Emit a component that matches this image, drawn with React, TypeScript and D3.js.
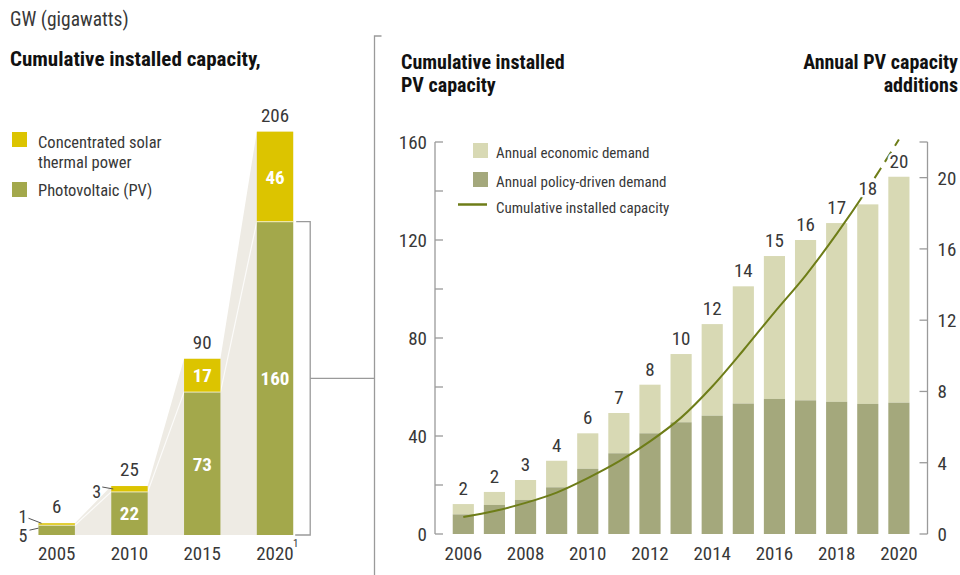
import * as d3 from 'd3';

// left panel: cumulative installed capacity, GW
const leftYears = ['2005', '2010', '2015', '2020'];
const pvCumulative = [5, 22, 73, 160];
const cspCumulative = [1, 3, 17, 46];
const leftTotals = [6, 25, 90, 206];

// right panel: annual additions (GW, right axis) and cumulative PV (GW, left axis)
const years = ['2006', '2007', '2008', '2009', '2010', '2011', '2012', '2013', '2014', '2015', '2016', '2017', '2018', '2019', '2020'];
const policyDemand = [1.1, 1.63, 1.91, 2.62, 3.66, 4.53, 5.65, 6.27, 6.64, 7.32, 7.58, 7.5, 7.42, 7.3, 7.37];
const economicDemand = [0.58, 0.73, 1.12, 1.49, 1.99, 2.26, 2.73, 3.83, 5.14, 6.58, 8.02, 9.0, 10.03, 11.2, 12.68];
const additionLabels = ['2', '2', '3', '4', '6', '7', '8', '10', '12', '14', '15', '16', '17', '18', '20'];
const cumulativePV = [6.9, 9.4, 12.7, 16.9, 22.8, 29.6, 37.8, 47.5, 60.2, 75, 90.5, 105.5, 122.5, 141, 161];
const yearTickLabels = ['2006', '2008', '2010', '2012', '2014', '2016', '2018', '2020'];
const leftTicks = [0, 20, 40, 60, 80, 100, 120, 140, 160];
const leftTickLabels = [0, 40, 80, 120, 160];
const rightTicks = [0, 4, 8, 12, 16, 20];

const FONT = '"Liberation Sans Narrow", "Roboto Condensed", "Arial Narrow", "DejaVu Sans Condensed", sans-serif';
const CSP = '#dcc400';
const PV = '#a3a84b';
const ECON = '#d8d9b4';
const POLICY = '#a4a87c';
const LINE = '#6e7d18';
const SHADE = '#eeebe4';
const GREY = '#9a9a9a';
const TEXT = '#383838';

export default function App() {
  // ---- left scales
  const xL = d3.scaleBand<string>().domain(leftYears).range([20.3, 311.4]).paddingInner(0.5).paddingOuter(0.25);
  const yL = d3.scaleLinear().domain([0, 210]).range([535, 535 - 210 * 1.958]);
  const bwL = xL.bandwidth();

  // shaded area joining the bar tops
  const shadePts: [number, number][] = [];
  leftYears.forEach((yr, i) => {
    shadePts.push([xL(yr)!, leftTotals[i]]);
    shadePts.push([xL(yr)! + bwL, leftTotals[i]]);
  });
  const shadeArea = d3.area<[number, number]>().x(d => d[0]).y0(yL(0)).y1(d => yL(d[1]));
  const pvPts: [number, number][] = [];
  leftYears.forEach((yr, i) => {
    pvPts.push([xL(yr)! + bwL, pvCumulative[i]]);
    if (i < leftYears.length - 1) pvPts.push([xL(leftYears[i + 1])!, pvCumulative[i + 1]]);
  });
  const pvLine = d3.line<[number, number]>().x(d => d[0]).y(d => yL(d[1]));

  // ---- right scales
  const xR = d3.scaleBand<string>().domain(years).range([447.75, 914.45]).paddingInner(0.32).paddingOuter(0.16);
  const bwR = xR.bandwidth();
  const cx = (yr: string) => xR(yr)! + bwR / 2;
  const yGW = d3.scaleLinear().domain([0, 160]).range([534, 142]);
  const yAdd = d3.scaleLinear().domain([0, 22]).range([534, 142]);

  const cumLine = d3.line<number>()
    .x((_, i) => cx(years[i]))
    .y(d => yGW(d))
    .curve(d3.curveCatmullRom.alpha(0.5));
  const cumPath = cumLine(cumulativePV) || '';
  const splitX = cx('2019');

  const axisLX = 435;
  const axisRX = 927.5;

  // bracket linking the 2020 PV bar to the right panel
  const brX0 = xL('2020')! + bwL + 3;
  const brX1 = brX0 + 14;
  const brTop = yL(pvCumulative[3]);
  const brMid = (yL(pvCumulative[3]) + yL(0)) / 2;
  const divX = 374.5;

  return (
    <svg width={960} height={575} style={{ position: 'absolute', left: 0, top: 0, background: '#fff' }} fontFamily={FONT}>
      <defs>
        <clipPath id="solidClip"><rect x={0} y={0} width={splitX} height={575} /></clipPath>
        <clipPath id="dashClip"><rect x={splitX} y={0} width={960 - splitX} height={575} /></clipPath>
      </defs>

      {/* ---------- left panel ---------- */}
      <text x={10} y={26} fontSize={19.5} fill={TEXT}>GW (gigawatts)</text>
      <text x={10} y={66} fontSize={21} fontWeight="bold" fill="#111">Cumulative installed capacity,</text>

      <rect x={12} y={132} width={15} height={15} fill={CSP} />
      <text x={38} y={148} fontSize={16.5} fill={TEXT}>Concentrated solar</text>
      <text x={38} y={168} fontSize={16.5} fill={TEXT}>thermal power</text>
      <rect x={12} y={182} width={15} height={15} fill={PV} />
      <text x={38} y={196} fontSize={16.5} fill={TEXT}>Photovoltaic (PV)</text>

      <path d={shadeArea(shadePts) || ''} fill={SHADE} />
      <path d={pvLine(pvPts) || ''} fill="none" stroke="#fff" strokeWidth={1.2} opacity={0.8} />

      {leftYears.map((yr, i) => {
        const x = xL(yr)!;
        const pvTop = yL(pvCumulative[i]);
        const totTop = yL(leftTotals[i]);
        return (
          <g key={yr}>
            <rect x={x} y={pvTop} width={bwL} height={yL(0) - pvTop} fill={PV} />
            <rect x={x} y={totTop} width={bwL} height={pvTop - totTop} fill={CSP} />
            <line x1={x} x2={x + bwL} y1={pvTop} y2={pvTop} stroke="#fff" strokeWidth={1} opacity={0.7} />
            <text x={x + bwL / 2} y={totTop - 10} textAnchor="middle" fontSize={19} fill={TEXT}>{leftTotals[i]}</text>
            <text x={x + bwL / 2} y={560} textAnchor="middle" fontSize={19} fill={TEXT}>{yr}</text>
            {pvCumulative[i] > 10 && (
              <text x={x + bwL / 2} y={(pvTop + yL(0)) / 2 + 7} textAnchor="middle" fontSize={19} fontWeight="bold" fill="#fff">{pvCumulative[i]}</text>
            )}
            {cspCumulative[i] > 10 && (
              <text x={x + bwL / 2} y={(totTop + pvTop) / 2 + 7} textAnchor="middle" fontSize={19} fontWeight="bold" fill="#fff">{cspCumulative[i]}</text>
            )}
          </g>
        );
      })}
      <text x={xL('2020')! + bwL / 2 + 18} y={547} fontSize={11} fill={TEXT}>1</text>

      {/* small value callouts */}
      {(() => {
        const x05 = xL('2005')!;
        const x10 = xL('2010')!;
        const csp05 = (yL(leftTotals[0]) + yL(pvCumulative[0])) / 2;
        const pv05 = yL(pvCumulative[0] / 2 + 1.5);
        const csp10 = (yL(leftTotals[1]) + yL(pvCumulative[1])) / 2;
        return (
          <g fill={TEXT} stroke="none">
            <text x={x05 - 20} y={csp05 - 1.5} fontSize={18}>{cspCumulative[0]}</text>
            <line x1={x05 - 10} y1={csp05 - 6} x2={x05 + 3} y2={csp05 - 1} stroke="#555" strokeWidth={1} />
            <text x={x05 - 20} y={pv05 + 15} fontSize={18}>{pvCumulative[0]}</text>
            <line x1={x05 - 9} y1={pv05 + 3} x2={x05} y2={pv05 + 1} stroke="#555" strokeWidth={1} />
            <text x={x10 - 19} y={csp10 + 9} fontSize={18}>{cspCumulative[1]}</text>
            <line x1={x10 - 9} y1={csp10 - 2} x2={x10 + 2} y2={csp10} stroke="#555" strokeWidth={1} />
          </g>
        );
      })()}

      {/* bracket and divider */}
      <path d={`M${brX0},${brTop}H${brX1}V${yL(0)}H${brX0 - 1}`} fill="none" stroke={GREY} strokeWidth={1.3} />
      <path d={`M${brX1},${brMid}H${divX}`} fill="none" stroke={GREY} strokeWidth={1.3} />
      <path d={`M${divX + 7},36H${divX}V575`} fill="none" stroke={GREY} strokeWidth={1.3} />

      {/* ---------- right panel ---------- */}
      <text x={401} y={69} fontSize={20} fontWeight="bold" fill="#111">Cumulative installed</text>
      <text x={401} y={92} fontSize={20} fontWeight="bold" fill="#111">PV capacity</text>
      <text x={958} y={69} fontSize={20} fontWeight="bold" fill="#111" textAnchor="end">Annual PV capacity</text>
      <text x={958} y={92} fontSize={20} fontWeight="bold" fill="#111" textAnchor="end">additions</text>

      {/* bars */}
      {years.map((yr, i) => {
        const x = xR(yr)!;
        const pTop = yAdd(policyDemand[i]);
        const eTop = yAdd(policyDemand[i] + economicDemand[i]);
        return (
          <g key={yr}>
            <rect x={x} y={eTop} width={bwR} height={pTop - eTop} fill={ECON} />
            <rect x={x} y={pTop} width={bwR} height={yAdd(0) - pTop} fill={POLICY} />
          </g>
        );
      })}

      {/* cumulative line */}
      <path d={cumPath} fill="none" stroke={LINE} strokeWidth={2} clipPath="url(#solidClip)" />
      <path d={cumPath} fill="none" stroke={LINE} strokeWidth={2} strokeDasharray="12,7" clipPath="url(#dashClip)" />

      {/* bar labels with halo */}
      {years.map((yr, i) => (
        <text key={yr} x={cx(yr)} y={yAdd(policyDemand[i] + economicDemand[i]) - 9} textAnchor="middle"
          fontSize={19} fill={TEXT} stroke="#fff" strokeWidth={5} paintOrder="stroke" strokeLinejoin="round">
          {additionLabels[i]}
        </text>
      ))}

      {/* left axis */}
      <line x1={axisLX} x2={axisLX} y1={yGW(160)} y2={yGW(0)} stroke={GREY} strokeWidth={1.3} />
      {leftTicks.map(t => (
        <line key={t} x1={axisLX} x2={axisLX + 8} y1={yGW(t)} y2={yGW(t)} stroke={GREY} strokeWidth={1.3} />
      ))}
      {leftTickLabels.map(t => (
        <text key={t} x={axisLX - 8} y={yGW(t) + 7} textAnchor="end" fontSize={19} fill={TEXT}>{t}</text>
      ))}

      {/* right axis */}
      <line x1={axisRX} x2={axisRX} y1={yAdd(22)} y2={yAdd(0)} stroke={GREY} strokeWidth={1.3} />
      {[...rightTicks, 22].map(t => (
        <line key={t} x1={axisRX - 8} x2={axisRX} y1={yAdd(t)} y2={yAdd(t)} stroke={GREY} strokeWidth={1.3} />
      ))}
      {rightTicks.map(t => (
        <text key={t} x={axisRX + 10} y={yAdd(t) + 7} fontSize={19} fill={TEXT}>{t}</text>
      ))}

      {/* year labels */}
      {yearTickLabels.map(yr => (
        <text key={yr} x={cx(yr)} y={560} textAnchor="middle" fontSize={19} fill={TEXT}>{yr}</text>
      ))}

      {/* legend */}
      <rect x={473} y={143} width={15} height={15} fill={ECON} />
      <text x={496} y={158} fontSize={15} fill={TEXT}>Annual economic demand</text>
      <rect x={473} y={172} width={15} height={15} fill={POLICY} />
      <text x={496} y={187} fontSize={15} fill={TEXT}>Annual policy-driven demand</text>
      <line x1={458} x2={487} y1={204.5} y2={204.5} stroke={LINE} strokeWidth={2.5} />
      <text x={496} y={213} fontSize={15} fill={TEXT}>Cumulative installed capacity</text>
    </svg>
  );
}
